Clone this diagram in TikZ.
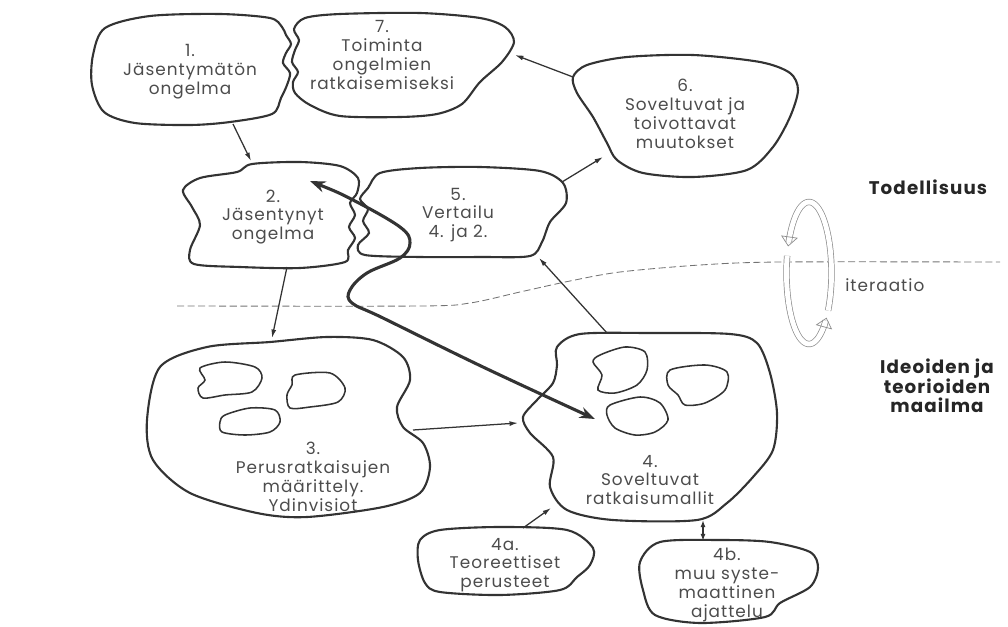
\documentclass[tikz,border=0pt]{standalone}
\usepackage{fontspec}
\setmainfont{Poppins}[LetterSpace=6]
\usetikzlibrary{arrows.meta}
\colorlet{ink}{black!80}
\colorlet{print}{black!70}
\colorlet{ring}{black!45}
\newcommand{\blobtext}{\fontsize{12}{13.4}\selectfont}
\newcommand{\worldtext}{\fontsize{13}{14}\selectfont\bfseries}

\begin{document}
\begin{tikzpicture}[x=0.025cm, y=-0.025cm,
    blob/.style={draw=ink, line width=1.5pt},
    spot/.style={draw=ink, line width=1.1pt},
    label/.style={text=print, align=center, font=\blobtext, inner sep=0pt},
    world/.style={text=black!85, align=center, font=\worldtext, inner sep=0pt},
    link/.style={draw=ink, line width=0.9pt, -{Latex[length=6pt,width=3.5pt]}},
    loopback/.style={draw=ink, line width=2.2pt,
                     {Stealth[length=11pt,width=8pt]}-{Stealth[length=11pt,width=8pt]}},
    border/.style={draw=black!55, line width=0.6pt, dash pattern=on 5pt off 2.5pt},
    turn/.style={draw=ring, line width=0.5pt, double=white, double distance=3.5pt,
                 -{Triangle[open,length=7pt,width=12pt]}}
]
\useasboundingbox (0,0) rectangle (1008,626);

% reality / ideas border
\draw[border] plot[smooth, tension=0.5] coordinates {(177,306) (420,306) (470,303)
    (520,292) (570,281) (620,272) (700,265) (780,262) (1000,262)};

% blobs
\draw[blob] plot[smooth cycle] coordinates {(93,55) (105,28) (150,16) (220,14)
    (270,18) (282,27) (286,35) (291,44) (286,53) (283,63) (290,73) (287,85)
    (281,98) (272,114) (230,122) (190,125) (135,123) (104,112) (92,85)};
\draw[blob] plot[smooth cycle] coordinates {(305,18) (340,14) (420,13) (480,18)
    (505,27) (514,42) (502,62) (480,82) (462,104) (437,114) (400,117) (340,116)
    (310,105) (295,93) (293,82) (298,72) (292,62) (295,50) (299,40) (294,29)};
\draw[blob] plot[smooth cycle] coordinates {(573,77) (587,65) (627,57) (693,55)
    (760,62) (790,73) (798,90) (790,117) (773,147) (747,170) (693,177)
    (643,173) (617,160) (607,143) (593,117) (577,93)};
\draw[blob] plot[smooth cycle] coordinates {(183,190) (200,178) (237,172)
    (252,164) (300,162) (340,166) (358,178) (357,193) (350,203) (355,215)
    (349,227) (355,238) (348,250) (345,262) (300,268) (240,267) (194,264)
    (190,250) (200,225) (192,207)};
\draw[blob] plot[smooth cycle] coordinates {(380,173) (420,168) (480,167)
    (540,171) (563,183) (566,203) (550,222) (542,242) (530,256) (480,257)
    (420,257) (365,255) (358,245) (369,233) (363,221) (368,209) (360,199)
    (368,188)};
\draw[blob] plot[smooth cycle] coordinates {(160,367) (207,347) (270,342)
    (327,337) (373,340) (403,357) (410,380) (397,407) (403,427) (423,443)
    (430,467) (420,493) (383,507) (307,517) (257,513) (190,493) (153,460)
    (147,420)};
\draw[blob] plot[smooth cycle] coordinates {(557,347) (580,334) (650,333)
    (730,334) (757,343) (770,373) (777,413) (773,450) (753,477) (727,503)
    (697,520) (613,520) (567,510) (550,487) (553,457) (530,433) (523,417)
    (537,400) (553,383) (557,365)};
\draw[blob] plot[smooth cycle] coordinates {(440,530) (500,527) (567,530)
    (593,548) (590,565) (577,577) (560,590) (500,595) (440,592) (425,583)
    (418,560) (420,540)};
\draw[blob] plot[smooth cycle] coordinates {(660,542) (720,540) (770,542)
    (810,552) (818,568) (810,587) (780,603) (765,617) (700,623) (655,615)
    (643,590) (640,562)};

% small spots inside 3 and 4
\draw[spot] plot[smooth cycle] coordinates {(200,368) (225,362) (255,367)
    (262,378) (252,392) (225,395) (203,398) (198,388) (205,380)};
\draw[spot] plot[smooth cycle] coordinates {(295,375) (330,373) (345,388)
    (338,402) (310,407) (290,408) (287,395) (292,385)};
\draw[spot] plot[smooth cycle] coordinates {(225,415) (250,408) (275,410)
    (280,422) (270,432) (245,435) (222,432) (220,422)};
\draw[spot] plot[smooth cycle] coordinates {(600,355) (625,347) (645,352)
    (647,370) (637,385) (615,393) (598,390) (602,375) (593,362)};
\draw[spot] plot[smooth cycle] coordinates {(670,370) (705,365) (727,372)
    (725,390) (705,403) (685,405) (678,395) (668,385)};
\draw[spot] plot[smooth cycle] coordinates {(610,405) (640,397) (660,403)
    (668,420) (655,432) (635,435) (615,428) (607,415)};

% texts
\node[label] (n1) at (190,72) {1.\\Jäsentymätön\\ongelma};
\node[label] (n7) at (382,55) {7.\\Toiminta\\ongelmien\\ratkaisemiseksi};
\node[label] (n6) at (685,114) {6.\\Soveltuvat ja\\toivottavat\\muutokset};
\node[label] (n2) at (273,217) {2.\\Jäsentynyt\\ongelma};
\node[label] (n5) at (458,215) {5.\\Vertailu\\4. ja 2.};
\node[label] (n3) at (313,477) {3.\\Perusratkaisujen\\määrittely.\\Ydinvisiot};
\node[label] (n4) at (650,480) {4.\\Soveltuvat\\ratkaisumallit};
\node[label] (n4a) at (505,565) {4a.\\Teoreettiset\\perusteet};
\node[label] (n4b) at (727,585) {4b.\\muu syste-\\maattinen\\ajattelu};

\node[world] (real) at (928,187) {Todellisuus};
\node[world] (ideas) at (937,386) {Ideoiden ja\\teorioiden\\maailma};
\node[label, anchor=west] (iter) at (845,285) {iteraatio};

% connector ends
\coordinate (n1-s) at (233,124);
\coordinate (n2-n) at (251,161);
\coordinate (n2-s) at (287,267);
\coordinate (n3-n) at (272,338);
\coordinate (n3-e) at (413,430);
\coordinate (n4-w) at (518,423);
\coordinate (n4-n) at (607,333);
\coordinate (n5-s) at (539,258);
\coordinate (n5-ne) at (562,182);
\coordinate (n6-sw) at (603,157);
\coordinate (n6-w) at (573,77);
\coordinate (n7-e) at (515,55);
\coordinate (n4a-n) at (523,528);
\coordinate (n4-sw) at (551,508);
\coordinate (n4-s) at (703,520);
\coordinate (n4b-n) at (703,541);
\coordinate (n2-in) at (310,181);
\coordinate (n4-in) at (595,419);

\draw[link] (n1-s) -- (n2-n);
\draw[link] (n2-s) -- (n3-n);
\draw[link] (n3-e) -- (n4-w);
\draw[link] (n4-n) -- (n5-s);
\draw[link] (n5-ne) -- (n6-sw);
\draw[link] (n6-w) -- (n7-e);
\draw[link] (n4a-n) -- (n4-sw);
\draw[link, {Latex[length=5pt,width=3.5pt]}-{Latex[length=5pt,width=3.5pt]}] (n4-s) -- (n4b-n);

% back to the problem
\draw[loopback] plot[smooth, tension=0.6] coordinates {(n2-in) (353,200) (400,227)
    (410,243) (400,258) (367,273) (350,290) (352,303) (383,318) (483,367) (n4-in)};

% iteration ring
\draw[turn] plot[domain=-32:158, samples=50, variable=\t]
    ({809+22.5*cos(\t)}, {273-71*sin(\t)});
\draw[turn] plot[domain=166:321, samples=50, variable=\t]
    ({809+22.5*cos(\t)}, {273-71*sin(\t)});

\end{tikzpicture}
\end{document}
